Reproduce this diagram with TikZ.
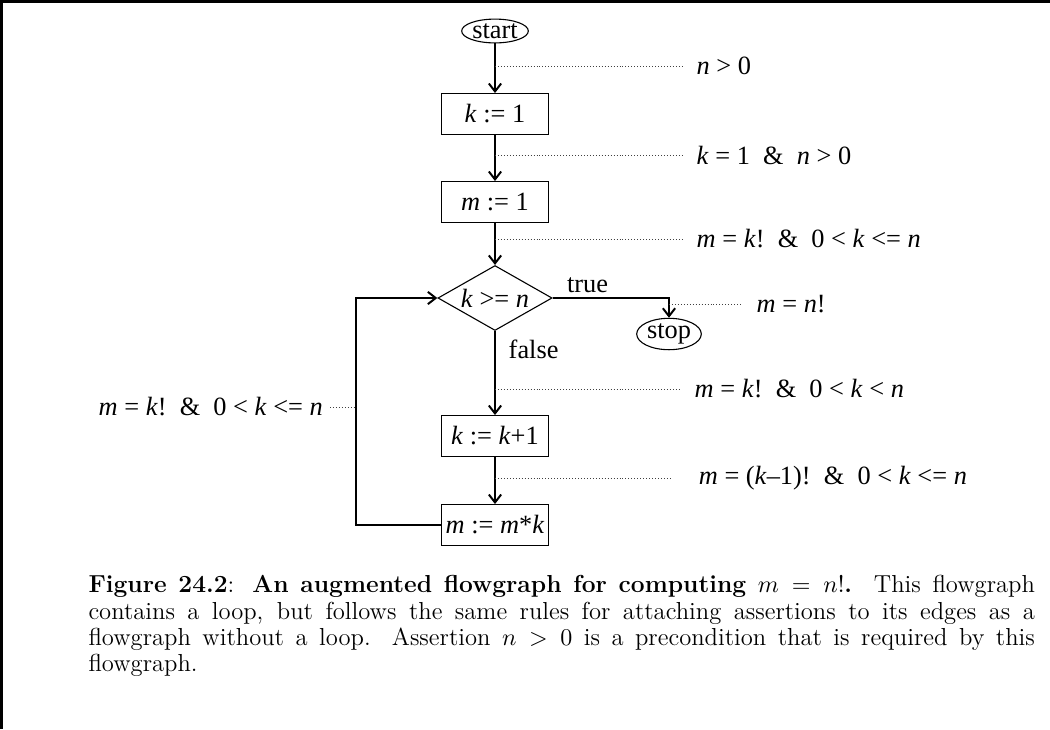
\documentclass[tikz,border=0pt]{standalone}
\usepackage{fontspec}
\usetikzlibrary{shapes.geometric,arrows.meta}
\newfontfamily\tms{Liberation Serif}
\newcommand{\vn}[1]{\textit{#1}}
\newcommand{\capfont}{\fontsize{11.2}{12}\selectfont
  \spaceskip=\fontdimen2\font plus \fontdimen3\font minus 0pt\relax
  \hyphenpenalty=10000 \tolerance=3000 }

\begin{document}
\begin{tikzpicture}[x=0.016cm,y=-0.016cm,line width=.5pt,
  >={Straight Barb[length=3.6pt,width=5.6pt,line width=.9pt]},
  fg/.style={font=\tms\fontsize{12}{14}\selectfont},
  op/.style={fg,draw,minimum width=48.7pt,minimum height=18.6pt,inner sep=0pt},
  term/.style={fg,draw,ellipse,inner sep=.4pt},
  test/.style={fg,draw,diamond,aspect=2,minimum width=52pt,minimum height=29.6pt,inner sep=0pt},
  asrt/.style={fg,inner xsep=6pt,inner ysep=1pt,anchor=west},
  dots/.style={line width=.4pt,black!75,dash pattern=on .45pt off .9pt}]
\useasboundingbox (0,0) rectangle (1050,729);
\draw[line width=1.4pt] (1.5,729) -- (1.5,1.5) -- (1050,1.5);
% the flowgraph
\node[term] (start) at (495,31) {start};
\node[op] (k1) at (495,114) {\vn{k} := 1};
\node[op] (m1) at (495,202) {\vn{m} := 1};
\node[test] (test) at (495,298) {\vn{k} >= \vn{n}};
\node[term] (stop) at (669,334) {stop};
\node[op] (kinc) at (495,436) {\vn{k} := \vn{k}+1};
\node[op] (mmul) at (495,525) {\vn{m} := \vn{m}*\vn{k}};
\coordinate (back) at (356,407);
\draw[->] (start) -- (k1);
\draw[->] (k1) -- (m1);
\draw[->] (m1) -- (test);
\draw[->] (test.east) -| node[fg,pos=.15,above,inner sep=2pt] (tl) {true} (stop.north);
\draw[->] (test.south) -- node[fg,pos=.22,right=5pt,inner sep=1pt] (fl) {false} (kinc.north);
\draw[->] (kinc) -- (mmul);
\draw[->] (mmul.west) -| (back) |- (test.west);
% assertions on the edges
\node[asrt] (a0) at (683,66) {\vn{n} > 0};
\node[asrt] (a1) at (683,155) {\vn{k} = 1~~\&~~\vn{n} > 0};
\node[asrt] (a2) at (683,239) {\vn{m} = \vn{k}!~~\&~~0 < \vn{k} <= \vn{n}};
\node[asrt] (a3) at (743,304) {\vn{m} = \vn{n}!};
\node[asrt] (a4) at (681,389) {\vn{m} = \vn{k}!~~\&~~0 < \vn{k} < \vn{n}};
\node[asrt,inner xsep=12pt] (a5) at (672,478) {\vn{m} = (\vn{k}–1)!~~\&~~0 < \vn{k} <= \vn{n}};
\node[asrt,anchor=east,inner xsep=3pt] (a6) at (330,407) {\vn{m} = \vn{k}!~~\&~~0 < \vn{k} <= \vn{n}};
\draw[dots] (a0.west -| start) -- (a0.west);
\draw[dots] (a1.west -| k1) -- (a1.west);
\draw[dots] (a2.west -| m1) -- (a2.west);
\draw[dots] (a3.west -| stop) -- (a3.west);
\draw[dots] (a4.west -| test) -- (a4.west);
\draw[dots] (a5.west -| kinc) -- (a5.west);
\draw[dots] (a6.east) -- (back);
% caption
\node[anchor=north west,inner sep=0pt,text width=431pt,align=justify,font=\capfont] (cap) at (88,575)
  {\textbf{Figure 24.2}: \textbf{An augmented flowgraph for computing $m=n!$.} This flowgraph contains a loop, but follows the same rules for attaching assertions to its edges as a flowgraph without a loop.  Assertion $n>0$ is a precondition that is required by this flowgraph.};
\end{tikzpicture}
\end{document}
